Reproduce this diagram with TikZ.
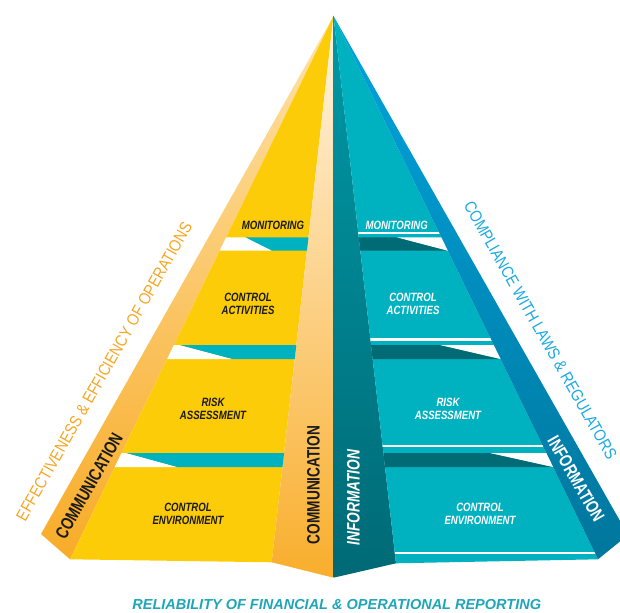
\documentclass[tikz,border=0pt]{standalone}
\usepackage{fontspec}
\setmainfont{Liberation Sans}
\newfontfamily\blockfont[FakeStretch=0.80]{Liberation Sans}
\newfontfamily\stripfont[FakeStretch=0.76]{Liberation Sans}
\newfontfamily\outerfont[FakeStretch=0.86]{Liberation Sans}
\newfontfamily\bottomfont{Liberation Sans}
\definecolor{yellowF}{RGB}{253,204,9}
\definecolor{tealF}{RGB}{0,177,192}
\definecolor{tealDark}{RGB}{0,106,117}
\definecolor{infoTop}{RGB}{0,152,166}
\definecolor{infoBot}{RGB}{0,106,118}
\definecolor{blueTop}{RGB}{0,164,222}
\definecolor{blueBot}{RGB}{0,118,156}
\definecolor{leftTop}{RGB}{254,226,170}
\definecolor{leftBot}{RGB}{248,172,40}
\definecolor{creamTop}{RGB}{255,245,228}
\definecolor{creamBot}{RGB}{249,174,44}
\definecolor{orangeT}{RGB}{247,166,35}
\definecolor{blueT}{RGB}{26,170,226}
\definecolor{bottomT}{RGB}{30,166,184}
\definecolor{inkT}{RGB}{26,26,26}
\tikzset{
  blk/.style={font=\blockfont\bfseries\itshape\fontsize{12}{12.7}\selectfont, align=center, inner sep=0pt},
  blkL/.style={blk, text=inkT},
  blkR/.style={blk, text=white},
  striptext/.style={font=\stripfont\bfseries\fontsize{18}{18}\selectfont, inner sep=0pt},
  stripital/.style={font=\stripfont\bfseries\itshape\fontsize{18}{18}\selectfont, inner sep=0pt},
  outertext/.style={font=\outerfont\fontsize{16.6}{16.6}\selectfont, inner sep=0pt},
  bottomtext/.style={font=\bottomfont\bfseries\itshape\fontsize{14.5}{14.5}\selectfont, inner sep=0pt, text=bottomT}
}
\begin{document}
\begin{tikzpicture}[x=1pt,y=-1pt]
\useasboundingbox (0,0) rectangle (620,612);
\clip (0,0) rectangle (620,612);
% corner points
\coordinate (A) at (333.5,16);
\coordinate (LO) at (41,534);
\coordinate (LB) at (70,559.3);
\coordinate (YB) at (271.7,562.3);
\coordinate (CB) at (333.5,577.7);
\coordinate (IB) at (396,563.3);
\coordinate (TB) at (598,559.3);
\coordinate (RO) at (628,535);
% faces
\shade[top color=leftTop, bottom color=leftBot] (A) -- (LO) -- (LB) -- cycle;
\fill[yellowF] (A) -- (LB) -- (YB) -- cycle;
\shade[top color=creamTop, bottom color=creamBot] (A) -- (YB) -- (CB) -- cycle;
\shade[top color=infoTop, bottom color=infoBot] (A) -- (CB) -- (IB) -- cycle;
\fill[tealF] (A) -- (IB) -- (TB) -- cycle;
\shade[top color=blueTop, bottom color=blueBot] (A) -- (TB) -- (RO) -- cycle;
% left separators
\begin{scope}
\clip (A) -- (LB) -- (YB) -- cycle;
\fill[tealF] (245.1,237.3) -- (400,237.3) -- (400,250.7) -- (271.7,250.7) -- cycle;
\fill[white] (0,237.3) -- (245.1,237.3) -- (271.7,250.7) -- (0,250.7) -- cycle;
\fill[tealF] (179,345) -- (400,345) -- (400,359) -- (231.7,359) -- cycle;
\fill[white] (0,345) -- (179,345) -- (231.7,359) -- (0,359) -- cycle;
\fill[tealF] (125.5,453) -- (400,453) -- (400,467) -- (176.7,467) -- cycle;
\fill[white] (0,453) -- (125.5,453) -- (176.7,467) -- (0,467) -- cycle;
\end{scope}
% right separators
\begin{scope}
\clip (A) -- (IB) -- (TB) -- cycle;
\fill[white] (300,232.3) rectangle (640,234.3);
\fill[tealDark] (300,237.3) -- (396.7,237.3) -- (447.7,250.7) -- (300,250.7) -- cycle;
\fill[white] (396.7,237.3) -- (640,237.3) -- (640,250.7) -- (447.7,250.7) -- cycle;
\fill[white] (300,338.3) rectangle (640,340.7);
\fill[tealDark] (300,345) -- (440,345) -- (500.4,359) -- (300,359) -- cycle;
\fill[white] (440,345) -- (640,345) -- (640,359) -- (500.4,359) -- cycle;
\fill[white] (300,445) rectangle (640,447.3);
\fill[tealDark] (300,453) -- (490,453) -- (552.9,467) -- (300,467) -- cycle;
\fill[white] (490,453) -- (640,453) -- (640,467) -- (552.9,467) -- cycle;
\fill[white] (300,551.7) rectangle (640,554);
\end{scope}
% block labels
\node[blkL] (lmon) at (273,225) {MONITORING};
\node[blkL] (lact) at (248,303.7) {CONTROL\\ACTIVITIES};
\node[blkL] (lrisk) at (213,409) {RISK\\ASSESSMENT};
\node[blkL] (lenv) at (188,513.7) {CONTROL\\ENVIRONMENT};
\node[blkR] (rmon) at (396.7,225) {MONITORING};
\node[blkR] (ract) at (413,303.7) {CONTROL\\ACTIVITIES};
\node[blkR] (rrisk) at (448,409) {RISK\\ASSESSMENT};
\node[blkR] (renv) at (480,513.7) {CONTROL\\ENVIRONMENT};
% strip labels
\node[striptext, text=inkT, rotate=60.5] (lcomm) at (89,486) {COMMUNICATION};
\node[striptext, text=inkT, rotate=90] (rcomm) at (313.5,485) {COMMUNICATION};
\node[stripital, text=white, rotate=90] (linfo) at (353.3,497.5) {INFORMATION};
\node[striptext, text=white, rotate=-60] (rinfo) at (576,479) {INFORMATION};
% outer labels
\node[outertext, text=orangeT, rotate=60.5] (eff) at (104,371.5) {EFFECTIVENESS \& EFFICIENCY OF OPERATIONS};
\node[outertext, text=blueT, rotate=-60.5] (comp) at (540.5,330.5) {COMPLIANCE WITH LAWS \& REGULATORS};
\node[bottomtext] (rel) at (336.7,604.8) {RELIABILITY OF FINANCIAL \& OPERATIONAL REPORTING};
\end{tikzpicture}
\end{document}
